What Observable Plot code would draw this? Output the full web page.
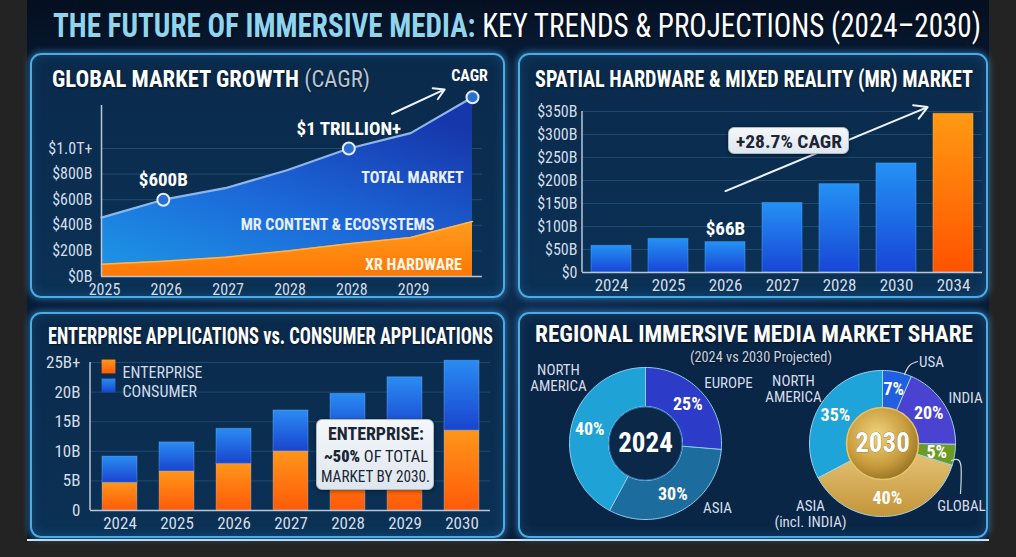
<!DOCTYPE html>
<html>
<head>
<meta charset="utf-8">
<script src="https://cdn.jsdelivr.net/npm/d3@7"></script>
<script src="https://cdn.jsdelivr.net/npm/@observablehq/plot@0.6"></script>
<style>
  html, body { margin: 0; padding: 0; width: 1016px; height: 557px; overflow: hidden; background: #232323; }
  #board {
    position: absolute; left: 27px; top: 0; width: 962px; height: 539px;
    background:
      linear-gradient(180deg, rgba(4,14,30,0.85) 0%, rgba(4,14,30,0) 12%),
      radial-gradient(ellipse at 50% 55%, #0d2b4d 0%, #091f3b 55%, #06162c 100%);
    border-bottom: 2px solid #dfe7f0;
  }
  .panel { position: absolute; }
  .panel > .frame {
    position: absolute; inset: 0; box-sizing: border-box;
    border: 2px solid #4aabe5; border-radius: 11px;
    box-shadow: 0 0 7px 1px rgba(70,170,240,0.55), inset 0 0 12px rgba(60,160,230,0.22);
    background: linear-gradient(180deg, #0a2a4b 0%, #0b3155 100%);
  }
  .panel svg { position: absolute; left: 0; top: 0; overflow: visible; }
  .txt { position: absolute; white-space: nowrap; line-height: 1; transform-origin: 0 50%; }
  .note {
    position: absolute; box-sizing: border-box; border-radius: 6px;
    background: linear-gradient(180deg, #f4f7fa 0%, #dfe6ee 100%);
    border: 1px solid #a9b9cb; box-shadow: 0 1px 4px rgba(0,0,0,0.45);
  }
</style>
</head>
<body>
<div id="board"></div>
<script>
// ---------- Global market growth (stacked area, $B) ----------
const growthYears = ["2025", "2026", "2027", "2028", "2028", "2029", ""];
const totalMarket = [460, 600, 690, 830, 1000, 1120, 1400];
const xrHardware  = [95, 120, 150, 200, 255, 305, 430];
const growthTicks = [0, 200, 400, 600, 800, 1000];
const growthCallouts = [1, 4];
const growthMarkers = [1, 4, 6];

// ---------- Spatial hardware & MR market ($B) ----------
const spatialYears  = ["2024", "2025", "2026", "2027", "2028", "2030", "2034"];
const spatialValues = [58, 73, 66, 151, 192, 237, 345];
const spatialTicks  = [0, 50, 100, 150, 200, 250, 300, 350];
const spatialCallout = "2026";
const spatialCagr = "+28.7% CAGR";

// ---------- Enterprise vs consumer applications ($B) ----------
const appYears   = ["2024", "2025", "2026", "2027", "2028", "2029", "2030"];
const enterprise = [4.7, 6.6, 7.9, 10.0, 12.0, 13.0, 13.5];
const consumer   = [4.4, 4.9, 5.9, 6.9, 7.7, 9.5, 11.8];
const appTypes   = ["ENTERPRISE", "CONSUMER"];
const appTicks   = [0, 5, 10, 15, 20, 25];

// ---------- Regional market share (%) ----------
const regions2024 = ["EUROPE", "ASIA", "NORTH AMERICA"];
const share2024   = [25, 30, 40];
const regions2030 = ["USA", "INDIA", "GLOBAL", "ASIA (incl. INDIA)", "NORTH AMERICA"];
const share2030   = [7, 20, 5, 40, 35];

// ---------- fonts ----------
const probe = document.createElement("canvas").getContext("2d");
function hasFont(name) {
  const s = "THE FUTURE OF IMMERSIVE MEDIA 2024";
  probe.font = "40px monospace"; const a = probe.measureText(s).width;
  probe.font = `40px "${name}", monospace`; const b = probe.measureText(s).width;
  return a !== b;
}
const cond = ["Liberation Sans Narrow", "Roboto Condensed", "DejaVu Sans Condensed", "Arial Narrow"].find(hasFont);
const FONT = `${cond ? `"${cond}", ` : ""}Roboto, "DejaVu Sans", sans-serif`;
document.body.style.fontFamily = FONT;

const baseStyle = {background: "transparent", color: "#d4dde8", fontFamily: FONT, fontSize: "15px", overflow: "visible"};

// ---------- helpers ----------
function panel(left, top, w, h, bg) {
  const p = document.createElement("div");
  p.className = "panel";
  Object.assign(p.style, {left: left + "px", top: top + "px", width: w + "px", height: h + "px"});
  const f = document.createElement("div");
  f.className = "frame";
  if (bg) f.style.background = bg;
  p.appendChild(f);
  document.body.appendChild(p);
  return p;
}
function addText(parent, html, {left, cy, size, width, weight = "bold", color = "#ffffff", shadow = true}) {
  const el = document.createElement("div");
  el.className = "txt";
  el.innerHTML = html;
  Object.assign(el.style, {left: left + "px", top: (cy - size * 0.48) + "px", fontSize: size + "px", fontWeight: weight, color});
  if (shadow) el.style.textShadow = "0 1px 2px rgba(0,0,0,0.6)";
  parent.appendChild(el);
  const w = el.getBoundingClientRect().width;
  if (width) el.style.transform = `scaleX(${width / w})`;
  return el;
}
// SVG <defs> block as a Plot render function
const defs = (markup) => () => {
  const d = d3.create("svg:defs");
  d.html(markup);
  return d.node();
};
// axis spine along the left edge of the frame
const leftSpine = (color) => (index, scales, values, dims) => {
  const l = d3.create("svg:line")
    .attr("x1", dims.marginLeft).attr("x2", dims.marginLeft)
    .attr("y1", dims.marginTop).attr("y2", dims.height - dims.marginBottom)
    .attr("stroke", color).attr("stroke-width", 1.5);
  return l.node();
};

// ---------- title ----------
addText(document.body,
  `<span style="color:#8fd5ee">THE FUTURE OF IMMERSIVE MEDIA:</span> <span style="font-weight:400;color:#ffffff">KEY TRENDS &amp; PROJECTIONS (2024–2030)</span>`,
  {left: 53, cy: 25, size: 33, width: 928});

// ============ Panel A: global market growth ============
{
  const p = panel(30, 53, 475, 245);
  addText(p, `GLOBAL MARKET GROWTH <span style="font-weight:400;color:#b7c4d3">(CAGR)</span>`,
    {left: 22, cy: 25.5, size: 24, width: 318});

  const growth = growthYears.map((label, i) => ({i, label, total: totalMarket[i], hw: xrHardware[i]}));
  const lineAt = (x) => {
    const i = Math.min(Math.floor(x), totalMarket.length - 2), t = x - i;
    return totalMarket[i] * (1 - t) + totalMarket[i + 1] * t;
  };
  const trend = [{x1: 4.7, y1: lineAt(4.7), x2: 5.55, y2: lineAt(5.55)}];
  const fmtMoney = (v) => v >= 1000 ? `$${v / 1000} TRILLION+` : `$${v}B`;
  const axisEnd = 6.16;
  const ML = 71, MT = 52;
  const at = (px, py) => ({frameAnchor: "top-left", dx: px - ML, dy: py - MT, textAnchor: "middle"});

  const svg = Plot.plot({
    width: 475, height: 245,
    marginLeft: ML, marginRight: 33, marginTop: MT, marginBottom: 22,
    x: {domain: [0, 6]},
    y: {domain: [0, 1336]},
    style: baseStyle,
    marks: [
      defs(`
        <linearGradient id="gTotal" x1="0" y1="1" x2="0.75" y2="0">
          <stop offset="0" stop-color="#1d98e6"/><stop offset="0.5" stop-color="#1c67d8"/><stop offset="1" stop-color="#1636ab"/>
        </linearGradient>
        <linearGradient id="gHw" x1="0" y1="0" x2="0" y2="1">
          <stop offset="0" stop-color="#ff9c1e"/><stop offset="1" stop-color="#ff7806"/>
        </linearGradient>`),
      Plot.ruleY(growthTicks, {x1: 0, x2: axisEnd, stroke: "#5a9ad0", strokeOpacity: 0.28}),
      Plot.areaY(growth, {x: "i", y: "total", fill: "url(#gTotal)"}),
      Plot.areaY(growth, {x: "i", y: "hw", fill: "url(#gHw)"}),
      Plot.lineY(growth, {x: "i", y: "hw", stroke: "#ffb451", strokeWidth: 1.5}),
      Plot.lineY(growth, {x: "i", y: "total", stroke: "#8db5e8", strokeWidth: 2.2}),
      Plot.ruleX([0], {stroke: "#b8c6d8", strokeWidth: 1.5}),
      Plot.ruleY([0], {x1: 0, x2: axisEnd, stroke: "#b8c6d8", strokeWidth: 1.5}),
      Plot.axisY({ticks: growthTicks, tickFormat: (v) => v === 0 ? "$0B" : v >= 1000 ? "$1.0T+" : `$${v}B`,
        tickSize: 0, tickPadding: 9, fontSize: 16, label: null}),
      Plot.axisX({ticks: [0, 1, 2, 3, 4, 5], tickFormat: (i) => growthYears[i],
        tickSize: 0, tickPadding: 7, dx: 3, fontSize: 16, label: null}),
      Plot.arrow(trend, {x1: "x1", y1: "y1", x2: "x2", y2: "y2", dy: -24, stroke: "#eef4ff", strokeWidth: 2, headLength: 9}),
      Plot.dot(growth.filter((d) => growthMarkers.includes(d.i)), {x: "i", y: "total", r: 6, fill: "#2b6fcf", stroke: "#e6eef9", strokeWidth: 2}),
      Plot.text(growth.filter((d) => growthCallouts.includes(d.i)), {x: "i", y: "total", text: (d) => fmtMoney(d.total),
        dy: -20, fill: "#ffffff", fontWeight: "bold", fontSize: 19}),
      Plot.text(growth.slice(-1), {x: "i", y: "total", text: () => "CAGR", dy: -21, dx: -3, fill: "#ffffff", fontWeight: "bold", fontSize: 16}),
      Plot.text(["TOTAL MARKET"], {text: (d) => d, ...at(382, 118), fill: "#e8eff9", fontWeight: "bold", fontSize: 16}),
      Plot.text(["MR CONTENT & ECOSYSTEMS"], {text: (d) => d, ...at(307, 165), fill: "#e6eefa", fontWeight: "bold", fontSize: 16}),
      Plot.text(["XR HARDWARE"], {text: (d) => d, ...at(383, 205), fill: "#fff6ea", fontWeight: "bold", fontSize: 16})
    ]
  });
  p.appendChild(svg);
}

// ============ Panel B: spatial hardware & MR market ============
{
  const p = panel(518, 53, 470, 245);
  addText(p, "SPATIAL HARDWARE &amp; MIXED REALITY (MR) MARKET", {left: 17, cy: 25.5, size: 24, width: 438});

  const spatial = spatialYears.map((year, i) => ({year, value: spatialValues[i], last: i === spatialYears.length - 1}));
  const arrowData = [{x1: spatialCallout, y1: spatialValues[4] - 15, x2: spatialYears[6], y2: spatialValues[6] + 38}];

  const svg = Plot.plot({
    width: 470, height: 245,
    marginLeft: 64, marginRight: 6, marginTop: 58, marginBottom: 26,
    x: {domain: spatialYears, paddingInner: 0.3, paddingOuter: 0.15},
    y: {domain: [0, 350]},
    color: {type: "identity"},
    style: baseStyle,
    marks: [
      defs(`
        <linearGradient id="gBlueBar" x1="0" y1="0" x2="0" y2="1">
          <stop offset="0" stop-color="#2491f4"/><stop offset="1" stop-color="#1846d6"/>
        </linearGradient>
        <linearGradient id="gOrangeBar" x1="0" y1="0" x2="0" y2="1">
          <stop offset="0" stop-color="#ff9a12"/><stop offset="1" stop-color="#ff5200"/>
        </linearGradient>`),
      Plot.ruleY(spatialTicks, {stroke: "#5a9ad0", strokeOpacity: 0.25}),
      Plot.barY(spatial, {x: "year", y: "value", fill: (d) => d.last ? "url(#gOrangeBar)" : "url(#gBlueBar)",
        stroke: (d) => d.last ? "#ffb347" : "#4aa6ff", strokeOpacity: 0.5, strokeWidth: 1}),
      leftSpine("#b8c6d8"),
      Plot.ruleY([0], {stroke: "#b8c6d8", strokeWidth: 1.5}),
      Plot.axisY({ticks: spatialTicks, tickFormat: (v) => v === 0 ? "$0" : `$${v}B`, tickSize: 0, tickPadding: 5, fontSize: 16, label: null}),
      Plot.axisX({tickSize: 0, tickPadding: 6, fontSize: 17, label: null}),
      Plot.arrow(arrowData, {x1: "x1", y1: "y1", x2: "x2", y2: "y2", insetEnd: 28, stroke: "#eef4ff", strokeWidth: 2, headLength: 11}),
      Plot.text(spatial.filter((d) => d.year === spatialCallout), {x: "year", y: "value", text: (d) => `$${d.value}B`,
        dy: -13, fill: "#ffffff", fontWeight: "bold", fontSize: 19})
    ]
  });
  p.appendChild(svg);

  const box = document.createElement("div");
  box.className = "note";
  Object.assign(box.style, {left: "210px", top: "74px", width: "121px", height: "27px"});
  p.appendChild(box);
  addText(box, spatialCagr, {left: 7, cy: 13, size: 19, width: 106, color: "#1b2535", shadow: false});
}

// ============ Panel C: enterprise vs consumer ============
{
  const p = panel(30, 312, 475, 226);
  addText(p, "ENTERPRISE APPLICATIONS vs. CONSUMER APPLICATIONS", {left: 18, cy: 24, size: 24, width: 445});

  const apps = appYears.flatMap((year, i) => [
    {year, type: appTypes[0], value: enterprise[i]},
    {year, type: appTypes[1], value: consumer[i]}
  ]);
  const swatch = {[appTypes[0]]: "url(#gEnt)", [appTypes[1]]: "url(#gCon)"};
  const ML = 60, MT = 50;

  const svg = Plot.plot({
    width: 475, height: 226,
    marginLeft: ML, marginRight: 15, marginTop: MT, marginBottom: 28,
    x: {domain: appYears, paddingInner: 0.39, paddingOuter: 0.195},
    y: {domain: [0, 25]},
    color: {type: "identity"},
    style: baseStyle,
    marks: [
      defs(`
        <linearGradient id="gEnt" x1="0" y1="0" x2="0" y2="1">
          <stop offset="0" stop-color="#ff961a"/><stop offset="1" stop-color="#ff5a08"/>
        </linearGradient>
        <linearGradient id="gCon" x1="0" y1="0" x2="0" y2="1">
          <stop offset="0" stop-color="#2a8cf2"/><stop offset="1" stop-color="#1944cf"/>
        </linearGradient>`),
      Plot.ruleY(appTicks, {stroke: "#5a9ad0", strokeOpacity: 0.25}),
      Plot.barY(apps, {x: "year", y: "value", fill: (d) => swatch[d.type], stroke: "#7fbfff", strokeOpacity: 0.35, strokeWidth: 1}),
      leftSpine("#b8c6d8"),
      Plot.ruleY([0], {stroke: "#b8c6d8", strokeWidth: 1.5}),
      Plot.axisY({ticks: appTicks, tickFormat: (v) => v === 0 ? "0" : v === 25 ? "25B+" : `${v}B`, tickSize: 0, tickPadding: 10, fontSize: 17, label: null}),
      Plot.axisX({tickSize: 0, tickPadding: 6, fontSize: 17, label: null}),
      // legend
      Plot.dot(appTypes.slice(0, 1), {frameAnchor: "top-left", dx: 18, dy: 4, symbol: "square", r: 7.8, fill: (d) => swatch[d]}),
      Plot.dot(appTypes.slice(1, 2), {frameAnchor: "top-left", dx: 18, dy: 23, symbol: "square", r: 7.8, fill: (d) => swatch[d]}),
      Plot.text(appTypes.slice(0, 1), {frameAnchor: "top-left", dx: 32, dy: 4, text: (d) => d, textAnchor: "start", fill: "#d3dce7", fontSize: 16}),
      Plot.text(appTypes.slice(1, 2), {frameAnchor: "top-left", dx: 32, dy: 23, text: (d) => d, textAnchor: "start", fill: "#d3dce7", fontSize: 16})
    ]
  });
  p.appendChild(svg);

  const last = appYears.length - 1;
  const share = enterprise[last] / (enterprise[last] + consumer[last]);
  const box = document.createElement("div");
  box.className = "note";
  Object.assign(box.style, {left: "286px", top: "107px", width: "118px", height: "71px"});
  p.appendChild(box);
  addText(box, "ENTERPRISE:", {left: 11, cy: 14, size: 18, width: 96, color: "#1b2535", shadow: false});
  addText(box, `<b>~${Math.round(share * 10) * 10}%</b> <span style="font-weight:400">OF TOTAL</span>`,
    {left: 7, cy: 37, size: 16, width: 104, color: "#1b2535", shadow: false});
  addText(box, `MARKET BY ${appYears[last]}.`, {left: 4, cy: 57, size: 16, width: 109, weight: 400, color: "#1b2535", shadow: false});
}

// ============ Panel D: regional market share ============
{
  const p = panel(518, 312, 470, 226, "linear-gradient(180deg, #0a2647 0%, #0a2646 100%)");
  addText(p, "REGIONAL IMMERSIVE MEDIA MARKET SHARE", {left: 17, cy: 22, size: 24, width: 438});
  addText(p, "(2024 vs 2030 Projected)", {left: 172, cy: 45, size: 15, width: 142, weight: 400, color: "#c9d3df"});

  // ring layout and slice styles
  const ringA = {cx: 127, cy: 131, r0: 37, r1: 76};
  const ringB = {cx: 364, cy: 131, r0: 35, r1: 73};
  const colorsA = {"EUROPE": "#2c3bc8", "ASIA": "#1c6d9e", "NORTH AMERICA": "#1fa2d6"};
  const colorsB = {"USA": "#1f5fe0", "INDIA": "#4a43d2", "GLOBAL": "#6b9b22", "ASIA (incl. INDIA)": "url(#gGoldSlice)", "NORTH AMERICA": "#1ea4d8"};
  const spotsA = {"EUROPE": [210, 70], "ASIA": [199, 195], "NORTH AMERICA": [40, 65]};
  const spotsB = {"USA": [413, 49], "INDIA": [447, 85], "GLOBAL": [443, 193], "ASIA (incl. INDIA)": [292, 201], "NORTH AMERICA": [275, 76]};

  function ring(names, values, g, colors, tag) {
    const arcs = d3.pie().sort(null).value((d) => d)(values);
    const rows = [], labels = [];
    arcs.forEach((a, k) => {
      const n = Math.max(6, Math.ceil((a.endAngle - a.startAngle) / 0.03));
      const pt = (r, t) => ({x: g.cx + r * Math.sin(t), y: g.cy - r * Math.cos(t)});
      for (let j = 0; j <= n; j++) rows.push({key: tag + k, fill: colors[names[k]], ...pt(g.r1, a.startAngle + (a.endAngle - a.startAngle) * j / n)});
      for (let j = n; j >= 0; j--) rows.push({key: tag + k, fill: colors[names[k]], ...pt(g.r0, a.startAngle + (a.endAngle - a.startAngle) * j / n)});
      const mid = (a.startAngle + a.endAngle) / 2;
      labels.push({name: names[k], value: values[k], ...pt((g.r0 + g.r1) / 2 + 1, mid)});
    });
    return {rows, labels};
  }
  const A = ring(regions2024, share2024, ringA, colorsA, "a");
  const B = ring(regions2030, share2030, ringB, colorsB, "b");
  const names = [
    ...regions2024.map((r) => ({text: r.replace(" ", "\n"), x: spotsA[r][0], y: spotsA[r][1]})),
    ...regions2030.map((r) => ({text: r.replace(" ", "\n"), x: spotsB[r][0], y: spotsB[r][1]}))
  ];
  const leaders = [
    {key: "usa", x: 386, y: 62}, {key: "usa", x: 391, y: 53}, {key: "usa", x: 399, y: 49},
    {key: "global", x: 433, y: 148}, {key: "global", x: 442, y: 151}, {key: "global", x: 442, y: 181}
  ];

  const svg = Plot.plot({
    width: 470, height: 226, margin: 0,
    x: {domain: [0, 470], range: [0, 470], axis: null},
    y: {domain: [0, 226], range: [0, 226], axis: null},
    color: {type: "identity"},
    style: baseStyle,
    marks: [
      defs(`
        <linearGradient id="gGoldSlice" x1="0" y1="0" x2="0" y2="1">
          <stop offset="0" stop-color="#e3c173"/><stop offset="1" stop-color="#c4953a"/>
        </linearGradient>
        <radialGradient id="gGoldCore" cx="0.42" cy="0.38" r="0.7">
          <stop offset="0" stop-color="#f1d27c"/><stop offset="0.6" stop-color="#c99d3e"/><stop offset="1" stop-color="#8d6a1f"/>
        </radialGradient>`),
      Plot.line(A.rows, {x: "x", y: "y", z: "key", fill: "fill", stroke: "#8fcdf0", strokeWidth: 1, curve: "linear-closed"}),
      Plot.line(B.rows, {x: "x", y: "y", z: "key", fill: "fill", stroke: "#9fd3ef", strokeWidth: 1, curve: "linear-closed"}),
      Plot.dot([ringA], {x: "cx", y: "cy", r: ringA.r0 - 0.5, fill: "#0b2849", stroke: "#2a6ea8", strokeWidth: 1}),
      Plot.dot([ringB], {x: "cx", y: "cy", r: ringB.r0 + 1, fill: "url(#gGoldCore)", stroke: "#e7c56c", strokeWidth: 1.5}),
      Plot.text([ringA], {x: "cx", y: "cy", text: () => "2024", fill: "#ffffff", fontWeight: "bold", fontSize: 27}),
      Plot.text([ringB], {x: "cx", y: "cy", text: () => "2030", fill: "#ffffff", fontWeight: "bold", fontSize: 27,
        stroke: "#7a5a14", strokeWidth: 0.6}),
      Plot.text([...A.labels, ...B.labels], {x: "x", y: "y", text: (d) => `${d.value}%`, fill: "#ffffff", fontWeight: "bold", fontSize: 18}),
      Plot.line(leaders, {x: "x", y: "y", z: "key", stroke: "#cdd7e3", strokeWidth: 1.2, curve: "natural"}),
      Plot.text(names, {x: "x", y: "y", text: "text", fill: "#d5deea", fontSize: 15, lineHeight: 1.1})
    ]
  });
  p.appendChild(svg);
}
</script>
</body>
</html>
